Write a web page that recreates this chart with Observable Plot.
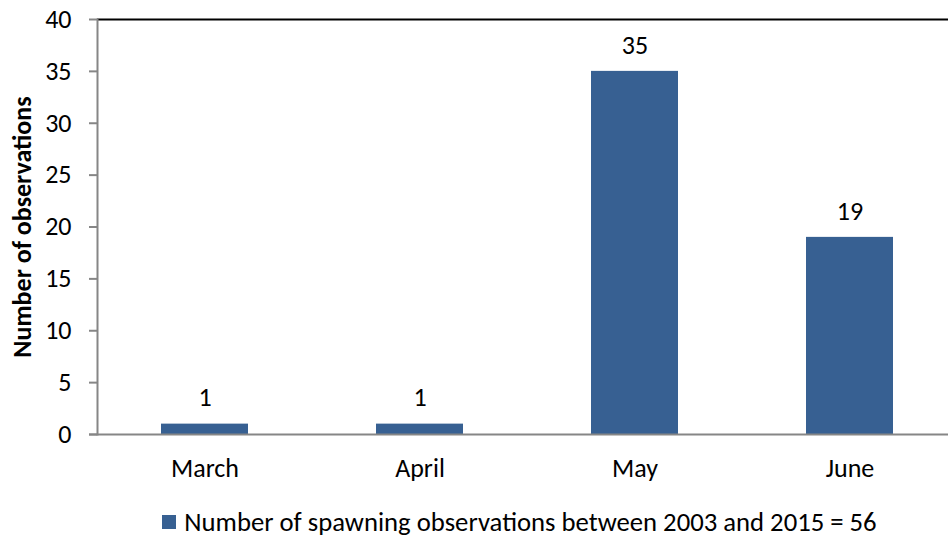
<!DOCTYPE html>
<html>
<head>
<meta charset="utf-8">
<script src="https://cdn.jsdelivr.net/npm/d3@7"></script>
<script src="https://cdn.jsdelivr.net/npm/@observablehq/plot@0.6"></script>
<style>
  body { margin: 0; background: #fff; }
  #chart { width: 948px; }
  .legend { font-family: Carlito, "Liberation Sans", sans-serif; font-size: 26.7px; line-height: 32px; color: #000;
    display: flex; align-items: center; justify-content: center; margin-top: 16px; padding-left: 91px; }
  .legend .sw { width: 14px; height: 14px; background: #376092; margin-right: 8px; }
</style>
</head>
<body>
<div id="chart"></div>
<script>
const months = ["March", "April", "May", "June"];
const counts = [1, 1, 35, 19];
const yTicks = [0, 5, 10, 15, 20, 25, 30, 35, 40];
const seriesName = "Number of spawning observations between 2003 and 2015 = 56";
const yTitle = "Number of observations";

const data = months.map((m, i) => ({month: m, count: counts[i]}));
const font = 'Carlito, "Liberation Sans", sans-serif';

const plot = Plot.plot({
  width: 948,
  height: 490,
  marginTop: 19,
  marginBottom: 56,
  marginLeft: 97,
  marginRight: 0,
  style: {fontFamily: font, fontSize: "26px", color: "#000", background: "#fff"},
  x: {domain: months, range: [97, 957], paddingInner: 0.597, paddingOuter: 0.2985, label: null},
  y: {domain: [0, 40], label: null},
  marks: [
    Plot.ruleY([40], {stroke: "#000", strokeWidth: 2}),
    Plot.frame({anchor: "left", stroke: "#868686", strokeWidth: 2}),
    Plot.barY(data, {x: "month", y: "count", fill: "#376092"}),
    Plot.ruleY([0], {stroke: "#868686", strokeWidth: 2, insetLeft: -8}),
    Plot.axisY({ticks: yTicks, tickSize: 8, tickPadding: 18, stroke: "#868686", strokeWidth: 2, fontSize: 26, label: null}),
    Plot.text([yTitle], {frameAnchor: "left", dx: -75, rotate: -90, fontWeight: "bold", fontSize: 26, textAnchor: "middle"}),
    Plot.axisX({tickSize: 0, tickPadding: 24, fontSize: 26, label: null}),
    Plot.text(data, {x: "month", y: "count", text: d => String(d.count), dy: -26, fontSize: 26})
  ]
});
document.getElementById("chart").appendChild(plot);

const leg = document.createElement("div");
leg.className = "legend";
leg.innerHTML = '<div class="sw"></div><span></span>';
leg.querySelector("span").textContent = seriesName;
document.getElementById("chart").appendChild(leg);
</script>
</body>
</html>
